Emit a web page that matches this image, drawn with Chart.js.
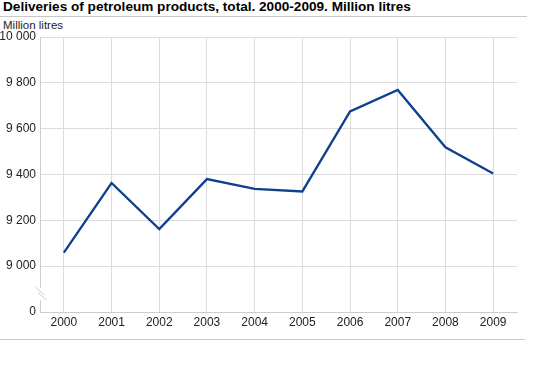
<!DOCTYPE html>
<html>
<head>
<meta charset="utf-8">
<script src="https://cdn.jsdelivr.net/npm/chart.js@4/dist/chart.umd.min.js"></script>
<style>
  html, body { margin: 0; padding: 0; background: #fff; }
  body { width: 543px; height: 366px; position: relative; overflow: hidden; font-family: "Liberation Sans", Arial, sans-serif; }
  #title { position: absolute; left: 3px; top: -1px; font-size: 13.6px; font-weight: bold; color: #000; line-height: 16px; white-space: nowrap; }
  #titleRule { position: absolute; left: 0; top: 16px; width: 527px; height: 1px; background: #c8c8c8; }
  #unit { position: absolute; left: 3px; top: 18px; font-size: 11.5px; color: #222; line-height: 14px; white-space: nowrap; }
  #bottomRule { position: absolute; left: 0; top: 339px; width: 525px; height: 1px; background: #c8c8c8; }
  #c { position: absolute; left: 0; top: 0; }
</style>
</head>
<body>
<div id="title">Deliveries of petroleum products, total. 2000-2009. Million litres</div>
<div id="titleRule"></div>
<div id="unit">Million litres</div>
<canvas id="c" width="543" height="366"></canvas>
<div id="bottomRule"></div>
<script>
// ---- data ----
const years = ['2000', '2001', '2002', '2003', '2004', '2005', '2006', '2007', '2008', '2009'];
const deliveries = [9059, 9363, 9162, 9380, 9337, 9326, 9675, 9769, 9519, 9404];
const yTickValues = [0, 9000, 9200, 9400, 9600, 9800, 10000];
// value shown at the broken-axis position for "0"
const breakPosition = 8800;

function fmt(v) {
  return String(v).replace(/\B(?=(\d{3})+(?!\d))/g, ' ');
}

const gridColor = '#dcdcdc';
const axisColor = '#cccccc';

const brokenAxis = {
  id: 'brokenAxis',
  afterDatasetsDraw(chart) {
    const ctx = chart.ctx;
    const y = chart.scales.y;
    const area = chart.chartArea;
    const x0 = area.left + 0.5;
    const yTop = y.getPixelForValue(10000);
    const y9000 = y.getPixelForValue(9000);
    const yZero = y.getPixelForValue(breakPosition);
    const mid = (y9000 + yZero) / 2 + 5;
    ctx.save();
    ctx.strokeStyle = axisColor;
    ctx.lineWidth = 1;
    ctx.beginPath();
    ctx.moveTo(x0, yTop);
    ctx.lineTo(x0, mid - 6);
    ctx.moveTo(x0, mid + 6);
    ctx.lineTo(x0, yZero);
    ctx.stroke();
    // break marks
    ctx.beginPath();
    ctx.moveTo(x0 - 5, mid - 7);
    ctx.lineTo(x0 + 4, mid + 1);
    ctx.moveTo(x0 - 3, mid - 2);
    ctx.lineTo(x0 + 6, mid + 6);
    ctx.stroke();
    ctx.restore();
  }
};

new Chart(document.getElementById('c'), {
  type: 'line',
  data: {
    labels: years,
    datasets: [{
      data: deliveries,
      borderColor: '#0f3f8f',
      borderWidth: 2.3,
      pointRadius: 0,
      pointHoverRadius: 0,
      tension: 0,
      fill: false
    }]
  },
  options: {
    responsive: false,
    animation: false,
    events: [],
    layout: { padding: { top: 37, left: 0, right: 26, bottom: 0 } },
    plugins: { legend: { display: false }, tooltip: { enabled: false }, title: { display: false } },
    scales: {
      x: {
        offset: true,
        grid: { offset: false, color: gridColor, lineWidth: 1, drawTicks: false },
        border: { display: true, color: axisColor, width: 1 },
        ticks: { color: '#222', font: { family: '"Liberation Sans", Arial, sans-serif', size: 12 }, padding: 3, maxRotation: 0, autoSkip: false },
        afterFit(s) { s.height = 54; }
      },
      y: {
        min: breakPosition,
        max: 10000,
        grid: { color: gridColor, lineWidth: 1, drawTicks: false },
        border: { display: false },
        ticks: {
          color: '#222',
          font: { family: '"Liberation Sans", Arial, sans-serif', size: 12 },
          padding: 4,
          callback: (v) => (v === breakPosition ? '0' : fmt(v))
        },
        afterBuildTicks(s) {
          s.ticks = yTickValues.map(v => ({ value: v === 0 ? breakPosition : v }));
        },
        afterFit(s) { s.width = 40; }
      }
    }
  },
  plugins: [brokenAxis]
});
</script>
</body>
</html>
